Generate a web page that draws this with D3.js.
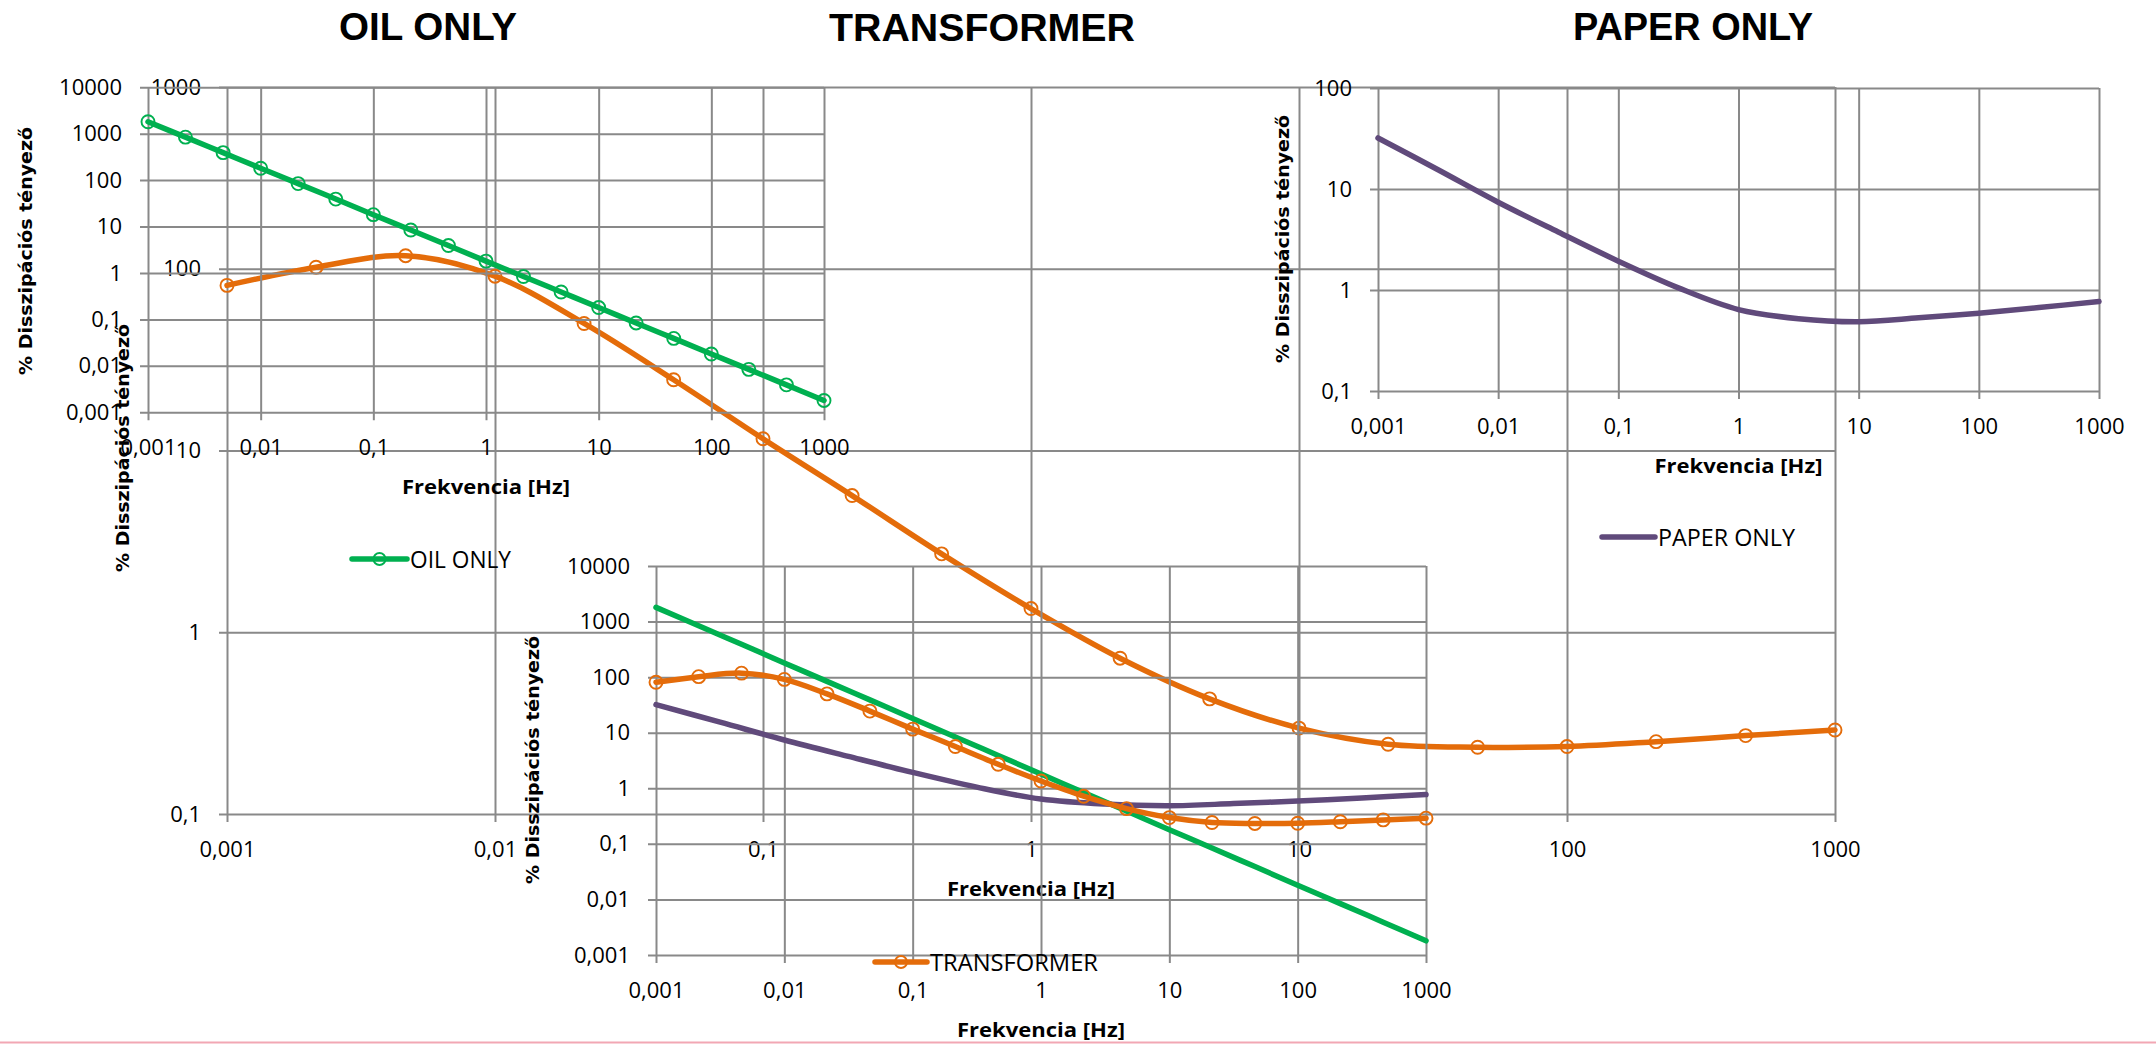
<!DOCTYPE html>
<html><head><meta charset="utf-8">
<script src="https://cdn.jsdelivr.net/npm/d3@7"></script>
<style>body{margin:0;background:#fff;overflow:hidden}</style>
</head><body>
<svg id="c" width="2156" height="1044"></svg>
<script>
// ---------- DATA ----------
const markerFreqs = [0.001, 0.00215, 0.00464, 0.01, 0.0215, 0.0464, 0.1, 0.215, 0.464, 1, 2.15, 4.64, 10, 21.5, 46.4, 100, 215, 464, 1000];
const oilValues = [1800, 840, 390, 180, 84, 39, 18, 8.4, 3.9, 1.8, 0.84, 0.39, 0.18, 0.084, 0.039, 0.018, 0.0084, 0.0039, 0.0018];
const transformerValues = [81, 102, 118, 91, 50, 24.5, 11.6, 5.65, 2.7, 1.35, 0.72, 0.43, 0.297, 0.242, 0.233, 0.235, 0.25, 0.27, 0.29];
const paperFreqs = [0.001, 0.00316, 0.01, 0.0316, 0.1, 0.316, 1, 3.16, 10, 31.6, 100, 316, 1000];
const paperValues = [32, 15.5, 7.4, 3.75, 1.93, 1.05, 0.64, 0.52, 0.485, 0.53, 0.59, 0.67, 0.77];
const xTicks = [0.001, 0.01, 0.1, 1, 10, 100, 1000];
const yTicksWide = [0.001, 0.01, 0.1, 1, 10, 100, 1000, 10000];
const yTicksTrafo = [0.1, 1, 10, 100, 1000];
const yTicksPaper = [0.1, 1, 10, 100];
const seriesNames = ["OIL ONLY", "TRANSFORMER", "PAPER ONLY"];
const xTitle = "Frekvencia [Hz]";
const yTitle = "% Disszipációs tényező";

// ---------- STYLE ----------
const COL = {oil: "#00B050", trafo: "#E46C0A", paper: "#604A7B", grid: "#898989"};
const svg = d3.select("#c");
const fmt = d => String(d).replace(".", ",");
const oilData = markerFreqs.map((f, i) => ({f, v: oilValues[i]}));
const trafoData = markerFreqs.map((f, i) => ({f, v: transformerValues[i]}));
const paperData = paperFreqs.map((f, i) => ({f, v: paperValues[i]}));

function panel(p) {
  const x = d3.scaleLog().domain([0.001, 1000]).range([p.left, p.right]);
  const y = d3.scaleLog().domain(p.yDomain).range([p.bottom, p.top]);
  const w = p.right - p.left, h = p.bottom - p.top;
  const g = svg.append("g");
  const ya = g.append("g").attr("transform", `translate(${p.left - 8},0)`)
    .call(d3.axisLeft(y).tickValues(p.yTicks).tickFormat(fmt).tickSizeInner(-(w + 8)).tickSizeOuter(0).tickPadding(18));
  const xa = g.append("g").attr("transform", `translate(0,${p.bottom + 8})`)
    .call(d3.axisBottom(x).tickValues(xTicks).tickFormat(fmt).tickSizeInner(-(h + 8)).tickSizeOuter(0).tickPadding(19));
  [ya, xa].forEach(a => {
    a.select(".domain").remove();
    a.selectAll("line").attr("stroke", COL.grid).attr("stroke-width", 2);
    a.selectAll("text").attr("font-family", "'Open Sans', sans-serif").attr("font-size", 22).attr("fill", "#000");
  });
  g.append("text").attr("x", (p.left + p.right) / 2).attr("y", p.bottom + 82)
    .attr("text-anchor", "middle").attr("font-family", "'Open Sans', sans-serif").attr("font-weight", "bold")
    .attr("font-size", 20).attr("textLength", 168).attr("lengthAdjust", "spacingAndGlyphs").text(xTitle);
  g.append("text").attr("transform", `translate(${p.ytX},${p.ytY}) rotate(-90)`)
    .attr("text-anchor", "middle").attr("dominant-baseline", "central")
    .attr("font-family", "'DejaVu Sans', sans-serif").attr("font-weight", "bold")
    .attr("font-size", 17).attr("textLength", 248).attr("lengthAdjust", "spacingAndGlyphs").text(yTitle);
  return {g, x, y};
}

function series(P, data, color, markers) {
  const line = d3.line().x(d => P.x(d.f)).y(d => P.y(d.v)).curve(d3.curveCatmullRom.alpha(0.5));
  P.g.append("path").datum(data).attr("d", line).attr("fill", "none").attr("stroke", color)
    .attr("stroke-width", 5.5).attr("stroke-linecap", "round").attr("stroke-linejoin", "round");
  if (markers) {
    P.g.selectAll(null).data(data).enter().append("circle")
      .attr("cx", d => P.x(d.f)).attr("cy", d => P.y(d.v)).attr("r", 6.5)
      .attr("fill", "none").attr("stroke", color).attr("stroke-width", 1.9);
  }
}

function legend(x0, x1, yc, color, marker, label, tlen) {
  svg.append("line").attr("x1", x0).attr("x2", x1).attr("y1", yc).attr("y2", yc)
    .attr("stroke", color).attr("stroke-width", 5.5).attr("stroke-linecap", "round");
  if (marker) svg.append("circle").attr("cx", (x0 + x1) / 2).attr("cy", yc).attr("r", 6)
    .attr("fill", "none").attr("stroke", color).attr("stroke-width", 1.9);
  svg.append("text").attr("x", x1 + 3).attr("y", yc + 8.5).attr("font-family", "'Open Sans', sans-serif")
    .attr("font-size", 23).attr("textLength", tlen).attr("lengthAdjust", "spacingAndGlyphs").text(label);
}

function title(cx, base, label, tlen) {
  svg.append("text").attr("x", cx).attr("y", base).attr("text-anchor", "middle")
    .attr("font-family", "'Liberation Sans', Arial, sans-serif").attr("font-weight", "bold").attr("font-size", 39)
    .attr("textLength", tlen).attr("lengthAdjust", "spacingAndGlyphs").text(label);
}

// big transformer chart (background)
const P2 = panel({left: 227, right: 1835, top: 87, bottom: 814, yDomain: [0.1, 1000], yTicks: yTicksTrafo, ytX: 123, ytY: 448});
series(P2, trafoData, COL.trafo, true);

// oil only chart
const P1 = panel({left: 148, right: 824, top: 87.2, bottom: 412.3, yDomain: [0.001, 10000], yTicks: yTicksWide, ytX: 26, ytY: 251});
series(P1, oilData, COL.oil, true);

// small transformer chart
const P3 = panel({left: 656, right: 1426, top: 566, bottom: 955, yDomain: [0.001, 10000], yTicks: yTicksWide, ytX: 533, ytY: 760});
series(P3, oilData, COL.oil, false);
series(P3, paperData, COL.paper, false);
series(P3, trafoData, COL.trafo, true);

// paper only chart
const P4 = panel({left: 1378, right: 2099, top: 88, bottom: 391, yDomain: [0.1, 100], yTicks: yTicksPaper, ytX: 1283, ytY: 239});
series(P4, paperData, COL.paper, false);

// titles
title(428, 40, seriesNames[0], 178);
title(982, 41, seriesNames[1], 306);
title(1693, 40, seriesNames[2], 240);

// legends
legend(352, 407, 559, COL.oil, true, seriesNames[0], 101);
legend(875, 927, 962, COL.trafo, true, seriesNames[1], 168);
legend(1602, 1655, 537, COL.paper, false, seriesNames[2], 137);

// bottom pink rule
svg.append("line").attr("x1", 0).attr("x2", 2156).attr("y1", 1042.5).attr("y2", 1042.5)
  .attr("stroke", "#F2A7B4").attr("stroke-width", 2);
</script>
</body></html>
